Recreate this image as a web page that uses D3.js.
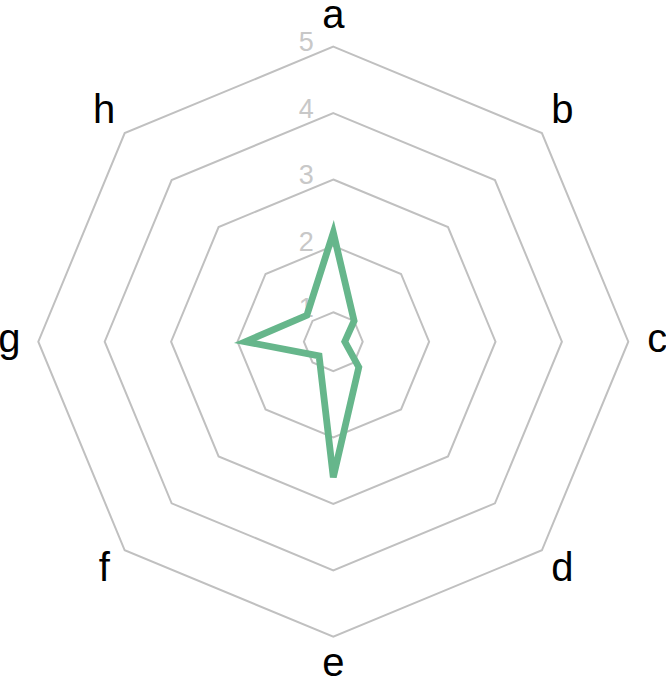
<!DOCTYPE html>
<html>
<head>
<meta charset="utf-8">
<script src="https://cdn.jsdelivr.net/npm/d3@7"></script>
<style>
  html, body { margin: 0; padding: 0; background: #fff; }
  svg { display: block; }
  text { font-family: "Liberation Sans", Arial, Helvetica, sans-serif; }
</style>
</head>
<body>
<svg id="chart" width="666" height="678"></svg>
<script>
const categories = ["a", "b", "c", "d", "e", "f", "g", "h"];
const values = [2.2, 1.0, 0.73, 1.1, 2.6, 0.86, 1.88, 1.12];
const tickValues = [1, 2, 3, 4, 5];
const tickLabels = ["1", "2", "3", "4", "5"];

const width = 666, height = 678;
const cx = 333.3, cy = 341.7;
const outerR = 295;

const svg = d3.select("#chart");
const g = svg.append("g").attr("transform", `translate(${cx},${cy})`);

const r = d3.scaleLinear().domain([0.557, 5]).range([0, outerR]);
const angle = d3.scaleLinear().domain([0, categories.length]).range([0, 2 * Math.PI]);

const pt = (i, rad) => [rad * Math.sin(angle(i)), -rad * Math.cos(angle(i))];

const ringLine = d3.line();

// grid rings
g.selectAll("path.ring")
  .data(tickValues)
  .enter().append("path")
  .attr("class", "ring")
  .attr("d", v => ringLine(categories.map((c, i) => pt(i, r(v)))) + "Z")
  .attr("fill", "none")
  .attr("stroke", "#c0c0c0")
  .attr("stroke-width", 2);

// tick labels
g.selectAll("text.tick")
  .data(tickValues)
  .enter().append("text")
  .attr("class", "tick")
  .attr("x", -27)
  .attr("y", v => -r(v) + 4.7)
  .attr("text-anchor", "middle")
  .attr("font-size", 27)
  .attr("fill", "#c8c8c8")
  .text((v, i) => tickLabels[i]);

// data polygon
const dataLine = d3.lineRadial()
  .angle((d, i) => angle(i))
  .radius(d => r(d))
  .curve(d3.curveLinearClosed);

g.append("path")
  .datum(values)
  .attr("d", dataLine)
  .attr("fill", "none")
  .attr("stroke", "#66b68b")
  .attr("stroke-width", 6.8)
  .attr("stroke-linejoin", "miter");

// category labels
const labelR = 324;
g.selectAll("text.cat")
  .data(categories)
  .enter().append("text")
  .attr("class", "cat")
  .attr("x", (c, i) => pt(i, labelR)[0])
  .attr("y", (c, i) => pt(i, labelR)[1] + 10)
  .attr("text-anchor", "middle")
  .attr("font-size", 40)
  .attr("fill", "#000")
  .text(c => c);
</script>
</body>
</html>
